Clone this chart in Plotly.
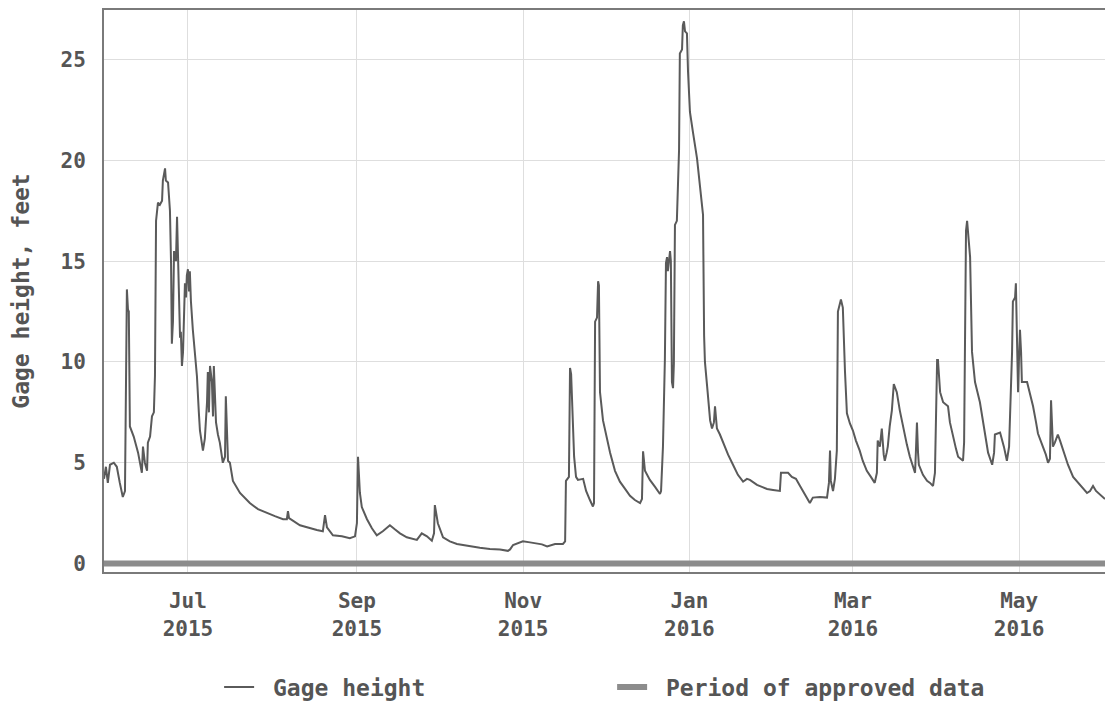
import pandas as pd
import plotly.graph_objects as go

# ---- data ----
start_date = pd.Timestamp("2015-06-01")

# days since 2015-06-01
day = [-0.8, -0.1, 0.6, 1.4, 2.8, 3.9, 5.0, 6.1, 6.9, 7.4, 7.6, 8.0, 8.3, 8.7, 10.1, 11.7, 12.8, 13.1,
       13.5, 14.2, 15.0, 15.3, 16.1, 16.8, 17.5, 17.9, 18.3, 19.0, 19.7, 20.5, 20.8, 21.6, 21.9, 22.7,
       23.4, 23.8, 24.1, 24.5, 24.9, 25.6, 26.0, 26.3, 26.7, 27.1, 27.4, 27.8, 28.2, 28.9, 29.3, 29.6,
       30.0, 30.4, 30.7, 31.1, 31.8, 32.6, 33.3, 34.0, 34.4, 35.5, 36.2, 37.0, 37.3, 37.7, 38.1, 38.8,
       39.2, 39.5, 40.3, 41.0, 41.7, 42.8, 43.6, 43.9, 44.3, 44.7, 45.4, 46.5, 49.1, 52.7, 55.7, 59.0,
       61.9, 64.9, 66.3, 66.7, 67.1, 71.1, 74.8, 77.3, 79.5, 80.3, 81.0, 83.2, 86.5, 89.4, 91.3, 92.0,
       92.4, 93.1, 93.8, 95.7, 97.5, 99.3, 101.5, 104.1, 105.9, 107.8, 110.3, 114.0, 115.8, 117.7,
       119.5, 120.3, 120.6, 121.7, 123.6, 126.1, 128.7, 131.6, 134.6, 137.1, 140.8, 144.5, 147.4,
       148.2, 149.3, 151.1, 152.9, 155.5, 158.1, 159.9, 161.8, 164.7, 167.6, 168.4, 168.7, 169.8,
       170.2, 170.6, 170.9, 171.7, 172.4, 173.1, 175.0, 176.1, 177.5, 178.6, 179.0, 179.4, 180.1,
       180.5, 180.8, 181.2, 182.3, 183.4, 184.9, 186.7, 188.5, 190.4, 192.2, 194.0, 195.9, 196.6,
       197.0, 197.7, 198.4, 199.5, 201.4, 203.2, 203.6, 203.9, 204.3, 205.0, 205.4, 205.8, 206.1,
       206.9, 207.2, 207.6, 208.0, 208.3, 208.7, 209.4, 209.8, 210.2, 210.5, 211.3, 211.6, 212.0,
       212.4, 213.1, 213.5, 214.2, 215.3, 216.8, 217.9, 219.0, 219.4, 219.7, 220.5, 221.6, 222.3,
       223.0, 223.4, 223.8, 224.1, 225.2, 226.3, 228.2, 230.0, 231.8, 233.7, 235.1, 236.2, 238.8,
       240.6, 242.5, 244.7, 247.2, 247.6, 249.1, 250.2, 251.6, 253.1, 254.6, 256.4, 258.2, 259.3,
       261.9, 264.5, 265.2, 265.6, 265.9, 266.7, 267.4, 268.1, 268.5, 269.6, 270.3, 271.1, 271.8,
       272.9, 274.0, 275.1, 276.5, 277.6, 279.1, 280.6, 282.0, 282.8, 283.1, 283.9, 284.6, 285.3,
       285.7, 286.4, 286.8, 287.5, 288.3, 289.0, 290.1, 291.2, 292.3, 293.8, 294.9, 296.0, 296.8,
       297.1, 297.5, 297.9, 298.2, 299.7, 301.2, 302.3, 303.4, 304.1, 304.5, 304.9, 305.2, 305.6,
       306.0, 307.1, 308.9, 309.6, 310.7, 311.8, 312.6, 314.4, 314.8, 315.1, 315.5, 315.9, 316.2,
       317.0, 317.7, 318.8, 320.6, 321.7, 322.5, 323.6, 325.1, 325.8, 326.1, 328.0, 329.4, 330.5,
       331.3, 331.6, 332.4, 332.7, 333.5, 333.8, 334.2, 334.6, 334.9, 335.3, 335.7, 336.0, 337.9,
       339.0, 340.1, 341.2, 341.9, 343.7, 344.8, 345.6, 346.3, 346.7, 347.0, 347.4, 348.1, 349.2,
       350.0, 351.1, 352.9, 354.8, 357.3, 359.9, 361.0, 362.1, 363.2, 364.7, 366.5]

# gage height, feet
gage_ft = [4.2, 4.8, 4.0, 4.9, 5.0, 4.8, 4.0, 3.3, 3.6, 12.6, 13.6, 12.6, 12.5, 6.8, 6.3, 5.5, 4.6, 4.5,
           5.8, 5.0, 4.6, 6.0, 6.3, 7.3, 7.5, 9.3, 17.0, 17.9, 17.8, 18.0, 19.0, 19.6, 19.0, 18.9,
           17.5, 14.9, 10.9, 12.0, 15.5, 15.0, 17.2, 15.7, 13.0, 11.2, 11.5, 9.8, 10.5, 13.9, 13.2, 14.3,
           14.6, 13.5, 14.5, 13.0, 11.6, 10.3, 9.3, 7.5, 6.6, 5.6, 6.2, 8.0, 9.5, 7.5, 9.8, 9.0,
           7.3, 9.8, 7.0, 6.4, 6.0, 5.0, 5.3, 8.3, 7.0, 5.1, 5.0, 4.1, 3.5, 3.0, 2.7, 2.5,
           2.35, 2.2, 2.2, 2.6, 2.25, 1.9, 1.75, 1.66, 1.6, 2.4, 1.8, 1.4, 1.35, 1.26, 1.35, 2.0,
           5.3, 3.5, 2.8, 2.2, 1.75, 1.4, 1.6, 1.9, 1.7, 1.5, 1.3, 1.17, 1.5, 1.35,
           1.13, 1.5, 2.9, 2.0, 1.3, 1.1, 0.97, 0.9, 0.82, 0.78, 0.72, 0.7, 0.63,
           0.7, 0.92, 1.0, 1.1, 1.05, 1.0, 0.95, 0.85, 0.97, 0.97, 1.1, 4.1, 4.3,
           9.7, 9.4, 8.3, 5.3, 4.3, 4.15, 4.2, 3.6, 3.15, 2.83, 3.0, 12.0, 12.2,
           14.0, 13.8, 8.5, 7.1, 6.4, 5.5, 4.6, 4.06, 3.7, 3.36, 3.15, 3.0, 3.2,
           5.57, 4.6, 4.4, 4.15, 3.8, 3.45, 3.6, 4.9, 5.8, 10.1, 14.9, 15.2, 14.5,
           15.5, 15.0, 9.0, 8.7, 9.9, 16.8, 17.0, 19.3, 20.5, 25.3, 25.5, 26.7, 26.9,
           26.4, 26.3, 24.4, 22.4, 21.4, 20.1, 18.7, 17.3, 11.3, 10.0, 8.8, 7.1, 6.7,
           7.0, 7.8, 7.0, 6.7, 6.4, 6.0, 5.4, 4.9, 4.4, 4.06, 4.2, 4.15, 3.9,
           3.8, 3.7, 3.65, 3.6, 4.5, 4.5, 4.5, 4.3, 4.2, 3.85, 3.4, 3.0, 3.27,
           3.3, 3.27, 4.0, 5.6, 4.1, 3.6, 4.2, 5.6, 12.5, 13.1, 12.7, 9.5, 7.45,
           6.95, 6.6, 6.1, 5.6, 5.1, 4.6, 4.3, 4.0, 4.5, 6.1, 5.8, 6.7, 5.4,
           5.1, 5.5, 5.8, 6.8, 7.6, 8.9, 8.5, 7.6, 6.8, 5.9, 5.3, 4.8, 4.5,
           5.5, 7.0, 5.5, 4.9, 4.4, 4.1, 4.0, 3.85, 4.5, 8.6, 10.1, 10.1, 9.0,
           8.5, 8.0, 7.8, 7.0, 6.3, 5.7, 5.3, 5.1, 6.0, 11.0, 16.5, 17.0, 16.6,
           15.2, 10.5, 9.0, 8.0, 7.0, 6.3, 5.5, 4.9, 5.5, 6.4, 6.5, 5.8, 5.1,
           5.8, 7.1, 10.5, 13.0, 13.2, 13.9, 11.0, 8.5, 10.0, 11.6, 10.5, 9.0, 9.0,
           8.4, 7.8, 7.0, 6.45, 5.8, 5.4, 5.0, 5.2, 8.1, 7.0, 5.8, 6.0, 6.4,
           6.1, 5.6, 4.9, 4.3, 3.9, 3.5, 3.6, 3.85, 3.6, 3.4, 3.2]

approved_day = [-0.8, 366.5]
approved_level = [0.0, 0.0]

tick_dates = ["2015-07-01", "2015-09-01", "2015-11-01", "2016-01-01", "2016-03-01", "2016-05-01"]
tick_text = ["Jul<br>2015", "Sep<br>2015", "Nov<br>2015", "Jan<br>2016", "Mar<br>2016", "May<br>2016"]
y_ticks = [0, 5, 10, 15, 20, 25]

dates = start_date + pd.to_timedelta(day, unit="D")
approved_dates = start_date + pd.to_timedelta(approved_day, unit="D")

FONT = "DejaVu Sans Mono"
TXT = "#555555"

fig = go.Figure()
fig.add_trace(go.Scatter(
    x=approved_dates, y=approved_level, mode="lines", name=" Period of approved data",
    line=dict(color="#8c8c8c", width=6), hoverinfo="skip"))
fig.add_trace(go.Scatter(
    x=dates, y=gage_ft, mode="lines", name=" Gage height",
    line=dict(color="#5a5a5a", width=2)))

fig.update_layout(
    width=1105, height=704,
    margin=dict(l=104, r=0, t=10, b=132, autoexpand=False),
    paper_bgcolor="white", plot_bgcolor="white",
    font=dict(family=FONT, color=TXT, size=21),
    showlegend=True,
    legend=dict(orientation="h", x=0.115, xanchor="left", y=-0.2045, yanchor="middle",
                traceorder="reversed", entrywidth=348, entrywidthmode="pixels",
                font=dict(family=FONT, size=23, color=TXT, weight="bold"),
                bgcolor="rgba(0,0,0,0)"),
)
fig.update_xaxes(
    type="date", automargin=False,
    range=[start_date + pd.Timedelta(days=-0.8), start_date + pd.Timedelta(days=366.5)],
    tickvals=tick_dates, ticktext=tick_text,
    tickfont=dict(family=FONT, size=21, color=TXT, weight="bold"),
    showgrid=True, gridcolor="#dedede", gridwidth=1,
    showline=True, linecolor="#7a7a7a", linewidth=2, mirror=True,
    ticks="", ticklabelstandoff=9, zeroline=False,
)
fig.update_yaxes(
    automargin=False,
    range=[-0.42, 27.46],
    tickvals=y_ticks, ticktext=[str(v) for v in y_ticks],
    tickfont=dict(family=FONT, size=21, color=TXT, weight="bold"),
    showgrid=True, gridcolor="#dedede", gridwidth=1,
    showline=True, linecolor="#7a7a7a", linewidth=2, mirror=False,
    ticks="", ticklabelstandoff=12, zeroline=False,
    title=dict(text="Gage height, feet", standoff=24,
               font=dict(family=FONT, size=23, color=TXT, weight="bold")),
)

fig.write_html(
    "out.html",
    config={"displayModeBar": False},
    post_script="document.body.style.margin='0';document.documentElement.style.overflow='hidden';",
)
